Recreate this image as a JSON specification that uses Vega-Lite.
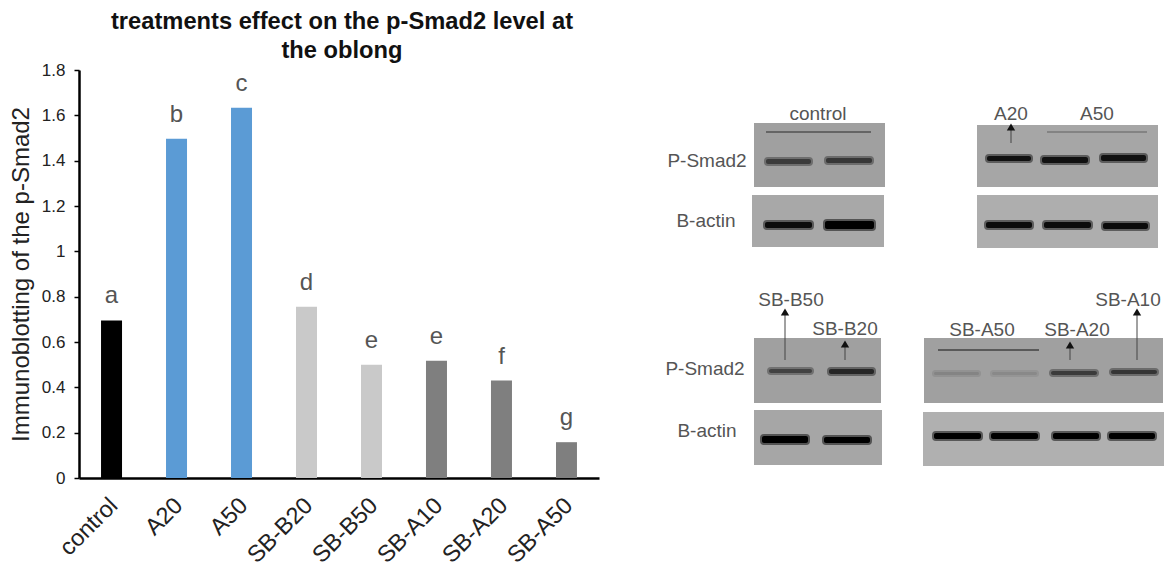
{
  "$schema": "https://vega.github.io/schema/vega-lite/v6.json",
  "background": "white",
  "padding": {"left": 9, "top": 10, "right": 0, "bottom": 0},
  "spacing": 50,
  "config": {"view": {"stroke": null}, "font": "Liberation Sans"},
  "datasets": {
    "bars": [
      {"treatment": "control", "level": 0.695, "letter": "a", "group": "control"},
      {"treatment": "A20", "level": 1.497, "letter": "b", "group": "A"},
      {"treatment": "A50", "level": 1.633, "letter": "c", "group": "A"},
      {"treatment": "SB-B20", "level": 0.755, "letter": "d", "group": "SB-B"},
      {"treatment": "SB-B50", "level": 0.5, "letter": "e", "group": "SB-B"},
      {"treatment": "SB-A10", "level": 0.517, "letter": "e", "group": "SB-A"},
      {"treatment": "SB-A20", "level": 0.43, "letter": "f", "group": "SB-A"},
      {"treatment": "SB-A50", "level": 0.158, "letter": "g", "group": "SB-A"}
    ],
    "gels": [
      {"a": 755, "b": 886, "top": 123, "bottom": 187, "density": 0.34},
      {"a": 753, "b": 885, "top": 195, "bottom": 247, "density": 0.31},
      {"a": 978, "b": 1159, "top": 125, "bottom": 187, "density": 0.32},
      {"a": 978, "b": 1159, "top": 195, "bottom": 248, "density": 0.29},
      {"a": 755, "b": 882, "top": 338, "bottom": 403, "density": 0.34},
      {"a": 755, "b": 883, "top": 410, "bottom": 465, "density": 0.32},
      {"a": 925, "b": 1164, "top": 338, "bottom": 403, "density": 0.34},
      {"a": 924, "b": 1165, "top": 412, "bottom": 466, "density": 0.28}
    ],
    "bands": [
      {"a": 767, "b": 812, "top": 159, "bottom": 164, "density": 0.75},
      {"a": 827, "b": 873, "top": 158, "bottom": 163, "density": 0.77},
      {"a": 766, "b": 813, "top": 222, "bottom": 228, "density": 0.97},
      {"a": 826, "b": 875, "top": 221, "bottom": 229, "density": 1},
      {"a": 988, "b": 1032, "top": 156, "bottom": 161, "density": 0.95},
      {"a": 1043, "b": 1089, "top": 157, "bottom": 163, "density": 0.95},
      {"a": 1102, "b": 1147, "top": 155, "bottom": 161, "density": 0.95},
      {"a": 987, "b": 1033, "top": 222, "bottom": 228, "density": 0.97},
      {"a": 1045, "b": 1092, "top": 222, "bottom": 228, "density": 0.97},
      {"a": 1104, "b": 1149, "top": 223, "bottom": 229, "density": 0.97},
      {"a": 770, "b": 813, "top": 369, "bottom": 373, "density": 0.72},
      {"a": 830, "b": 875, "top": 369, "bottom": 374, "density": 0.85},
      {"a": 763, "b": 809, "top": 436, "bottom": 443, "density": 1},
      {"a": 825, "b": 871, "top": 437, "bottom": 443, "density": 1},
      {"a": 935, "b": 980, "top": 372, "bottom": 375, "density": 0.45},
      {"a": 993, "b": 1038, "top": 372, "bottom": 375, "density": 0.43},
      {"a": 1052, "b": 1098, "top": 371, "bottom": 375, "density": 0.75},
      {"a": 1112, "b": 1158, "top": 370, "bottom": 374, "density": 0.78},
      {"a": 935, "b": 982, "top": 433, "bottom": 439, "density": 1},
      {"a": 992, "b": 1039, "top": 433, "bottom": 439, "density": 1},
      {"a": 1054, "b": 1100, "top": 433, "bottom": 439, "density": 1},
      {"a": 1110, "b": 1156, "top": 433, "bottom": 439, "density": 1}
    ],
    "overlines": [
      {"a": 767, "b": 872, "h": 132, "density": 0.65},
      {"a": 1048, "b": 1148, "h": 132, "density": 0.5},
      {"a": 939, "b": 1040, "h": 350, "density": 0.72}
    ],
    "arrows": [
      {"at": 1012, "from": 143, "tip": 127},
      {"at": 786, "from": 360, "tip": 312},
      {"at": 846, "from": 360, "tip": 344},
      {"at": 1071, "from": 360, "tip": 345},
      {"at": 1138, "from": 360, "tip": 312}
    ],
    "labels": [
      {"at": 819, "h": 114, "label": "control"},
      {"at": 1012, "h": 114, "label": "A20"},
      {"at": 1098, "h": 114, "label": "A50"},
      {"at": 708, "h": 161, "label": "P-Smad2"},
      {"at": 707, "h": 221, "label": "B-actin"},
      {"at": 792, "h": 300, "label": "SB-B50"},
      {"at": 846, "h": 329, "label": "SB-B20"},
      {"at": 983, "h": 330, "label": "SB-A50"},
      {"at": 1078, "h": 330, "label": "SB-A20"},
      {"at": 1129, "h": 300, "label": "SB-A10"},
      {"at": 706, "h": 369, "label": "P-Smad2"},
      {"at": 708, "h": 431, "label": "B-actin"}
    ]
  },
  "hconcat": [
    {
      "width": 520,
      "height": 408,
      "title": {
        "text": ["treatments effect on the p-Smad2 level at", "the oblong"],
        "fontSize": 23.7,
        "fontWeight": "bold",
        "color": "#111111",
        "lineHeight": 29,
        "anchor": "middle",
        "dx": 3,
        "offset": -2
      },
      "data": {"name": "bars"},
      "encoding": {
        "x": {
          "field": "treatment",
          "type": "nominal",
          "sort": null,
          "scale": {"paddingInner": 0.677, "paddingOuter": 0.339},
          "axis": {
            "title": null,
            "labelAngle": -45,
            "labelAlign": "right",
            "labelBaseline": "top",
            "labelFontSize": 23.5,
            "labelColor": "#222222",
            "labelPadding": 15,
            "labelOffset": -6,
            "ticks": false,
            "domainColor": "#000000",
            "domainWidth": 2.5
          }
        },
        "y": {
          "field": "level",
          "type": "quantitative",
          "scale": {"domain": [0, 1.8], "nice": false},
          "axis": {
            "title": "Immunoblotting of the p-Smad2",
            "titleFontSize": 24,
            "titleFontWeight": "normal",
            "titleColor": "#222222",
            "titlePadding": 8,
            "values": [0, 0.2, 0.4, 0.6, 0.8, 1, 1.2, 1.4, 1.6, 1.8],
            "labelExpr": "datum.value",
            "labelFontSize": 17,
            "labelColor": "#222222",
            "labelPadding": 9,
            "grid": false,
            "tickColor": "#000000",
            "tickSize": 5,
            "tickWidth": 1.5,
            "domainColor": "#000000",
            "domainWidth": 2.5
          }
        }
      },
      "layer": [
        {
          "mark": {"type": "bar", "size": 21},
          "encoding": {
            "color": {
              "field": "group",
              "type": "nominal",
              "legend": null,
              "scale": {
                "domain": ["control", "A", "SB-B", "SB-A"],
                "range": ["#000000", "#5B9BD5", "#C9C9C9", "#7F7F7F"]
              }
            }
          }
        },
        {
          "mark": {"type": "text", "dy": -24, "fontSize": 24, "color": "#555555", "baseline": "middle"},
          "encoding": {"text": {"field": "letter"}}
        }
      ]
    },
    {
      "width": 518,
      "height": 408,
      "encoding": {},
      "resolve": {"scale": {"color": "shared"}},
      "layer": [
        {
          "data": {"name": "gels"},
          "mark": {"type": "rect"},
          "encoding": {
            "x": {"field": "a", "type": "quantitative", "scale": {"domain": [650, 1168], "nice": false, "zero": false}, "axis": null},
            "x2": {"field": "b"},
            "y": {"field": "top", "type": "quantitative", "scale": {"domain": [478, 70], "nice": false, "zero": false}, "axis": null},
            "y2": {"field": "bottom"},
            "color": {"field": "density", "type": "quantitative", "legend": null, "scale": {"domain": [0, 1], "range": ["#ffffff", "#000000"]}}
          }
        },
        {
          "data": {"name": "bands"},
          "mark": {"type": "rect", "cornerRadius": 2, "strokeWidth": 4, "strokeOpacity": 0.5},
          "encoding": {
            "x": {"field": "a", "type": "quantitative", "axis": null},
            "x2": {"field": "b"},
            "y": {"field": "top", "type": "quantitative", "axis": null},
            "y2": {"field": "bottom"},
            "color": {"field": "density", "type": "quantitative", "legend": null},
            "stroke": {"field": "density", "type": "quantitative", "legend": null, "scale": {"domain": [0, 1], "range": ["#ffffff", "#000000"]}}
          }
        },
        {
          "data": {"name": "overlines"},
          "mark": {"type": "rule", "strokeWidth": 1.5},
          "encoding": {
            "x": {"field": "a", "type": "quantitative", "axis": null},
            "x2": {"field": "b"},
            "y": {"field": "h", "type": "quantitative", "axis": null},
            "stroke": {"field": "density", "type": "quantitative", "legend": null, "scale": {"domain": [0, 1], "range": ["#ffffff", "#000000"]}}
          }
        },
        {
          "data": {"name": "arrows"},
          "mark": {"type": "rule", "strokeWidth": 1, "color": "#444444"},
          "encoding": {
            "x": {"field": "at", "type": "quantitative", "axis": null},
            "y": {"field": "from", "type": "quantitative", "axis": null},
            "y2": {"field": "tip"}
          }
        },
        {
          "data": {"name": "arrows"},
          "mark": {"type": "point", "shape": "triangle-up", "filled": true, "size": 70, "color": "#111111", "opacity": 1},
          "encoding": {
            "x": {"field": "at", "type": "quantitative", "axis": null},
            "y": {"field": "tip", "type": "quantitative", "axis": null}
          }
        },
        {
          "data": {"name": "labels"},
          "mark": {"type": "text", "fontSize": 19, "color": "#555555", "baseline": "middle", "align": "center"},
          "encoding": {
            "x": {"field": "at", "type": "quantitative", "axis": null},
            "y": {"field": "h", "type": "quantitative", "axis": null},
            "text": {"field": "label"}
          }
        }
      ]
    }
  ]
}
